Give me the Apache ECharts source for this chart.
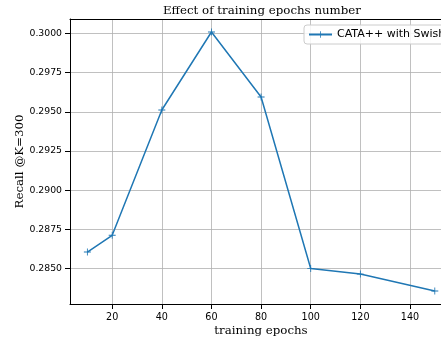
<!DOCTYPE html>
<html><head><meta charset="utf-8">
<script src="https://cdn.jsdelivr.net/npm/echarts@6/dist/echarts.min.js"></script>
<style>html,body{margin:0;padding:0;background:#fff}#c{width:441px;height:339px}</style>
</head><body><div id="c"></div>
<script>
const epochs = [10, 20, 40, 60, 80, 100, 120, 150];
const recall = [0.28605, 0.28712, 0.29512, 0.30010, 0.29595, 0.28500, 0.28464, 0.28356];
const xTicks = [20, 40, 60, 80, 100, 120, 140];
const yTicks = [0.2850, 0.2875, 0.2900, 0.2925, 0.2950, 0.2975, 0.3000];
const seriesName = 'CATA++ with Swish';

const plus = 'path://M-0.12,-1L0.12,-1L0.12,-0.12L1,-0.12L1,0.12L0.12,0.12L0.12,1L-0.12,1L-0.12,0.12L-1,0.12L-1,-0.12L-0.12,-0.12Z';
const chart = echarts.init(document.getElementById('c'), null, {renderer:'canvas'});
const X_MIN = 3, X_MAX = 152.5;
chart.setOption({
  animation: false,
  backgroundColor: '#fff',
  title: {text: 'Effect of training epochs number', left: 158, top: 0,
    textStyle: {fontFamily: 'DejaVu Serif', fontSize: 11.8, fontWeight: 'normal', color: '#000'}},
  legend: {left: 304, top: 25, data: [seriesName], backgroundColor: 'rgba(255,255,255,0.85)',
    borderColor: '#ccc', borderWidth: 1, borderRadius: 3, padding: [4, 5, 4, 4],
    itemWidth: 23, itemHeight: 8, itemGap: 6,
    textStyle: {fontFamily: 'DejaVu Sans', fontSize: 11, color: '#000'}},
  grid: {left: 70, top: 19, right: 0, bottom: 35, show: false, outerBoundsMode: 'none', containLabel: false},
  xAxis: [{type: 'value', min: X_MIN, max: X_MAX, name: 'training epochs', nameLocation: 'middle', nameGap: 21,
    nameMoveOverlap: false,
    nameTextStyle: {fontFamily: 'DejaVu Serif', fontSize: 11.8, color: '#000', padding: [0, 0, 0, 11]},
    axisLine: {show: true, onZero: false, lineStyle: {color: '#000', width: 1}},
    axisTick: {show: true, customValues: xTicks, length: 5, lineStyle: {color: '#000'}},
    axisLabel: {customValues: xTicks, fontFamily: 'DejaVu Sans', fontSize: 9.6, color: '#000', margin: 8},
    splitLine: {show: true, lineStyle: {color: '#b0b0b0', width: 0.8}}},
    {type: 'value', position: 'top', min: X_MIN, max: X_MAX,
    axisLine: {show: true, onZero: false, lineStyle: {color: '#000', width: 1}},
    axisTick: {show: false}, axisLabel: {show: false}, splitLine: {show: false}}],
  yAxis: {type: 'value', min: 0.28273, max: 0.30093, name: 'Recall @K=300', nameLocation: 'middle', nameGap: 44,
    nameMoveOverlap: false,
    nameTextStyle: {fontFamily: 'DejaVu Serif', fontSize: 11.8, color: '#000'},
    axisLine: {show: true, onZero: false, lineStyle: {color: '#000', width: 1}},
    axisTick: {show: true, customValues: yTicks, length: 5, lineStyle: {color: '#000'}},
    axisLabel: {customValues: yTicks, fontFamily: 'DejaVu Sans', fontSize: 9.3, color: '#000', margin: 8,
      formatter: v => v.toFixed(4)},
    splitLine: {show: true, lineStyle: {color: '#b0b0b0', width: 0.8}}},
  series: [{name: seriesName, type: 'line', data: epochs.map((e, i) => [e, recall[i]]),
    color: '#1f77b4', lineStyle: {width: 1.5, color: '#1f77b4'},
    symbol: plus, symbolSize: 7, showSymbol: true, itemStyle: {color: '#1f77b4'}}]
});
</script></body></html>
